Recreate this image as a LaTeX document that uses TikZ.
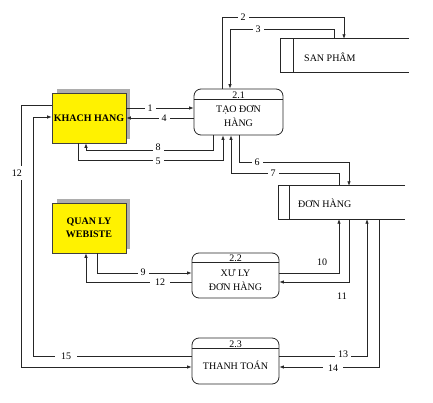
\documentclass[tikz,border=0pt]{standalone}
\usepackage{fontspec}
\setmainfont{Liberation Serif}
\usetikzlibrary{arrows.meta}
\begin{document}
\begin{tikzpicture}[x=1pt,y=-1pt,
  ln/.style={draw=black!85, line width=0.7pt},
  flow/.style={ln, -{Latex[length=4.5pt,width=3.5pt]}},
  proc/.style={draw=black!85, line width=0.8pt, rounded corners=7pt, inner sep=0pt},
  ent/.style={draw=black!75, line width=0.6pt, fill=yellow, minimum width=74pt, minimum height=50pt,
              inner sep=0pt, font=\bfseries\fontsize{10}{13}\selectfont, align=center},
  shadowc/.style={fill=black!32},
  store/.style={inner sep=0pt},
  ptext/.style={align=center, font=\fontsize{10}{14}\selectfont, inner sep=0pt},
  pnum/.style={anchor=base, inner sep=0pt, font=\fontsize{10}{12}\selectfont},
  lbl/.style={fill=white, inner xsep=3pt, inner ysep=1.5pt, font=\fontsize{10}{12}\selectfont},
  nlbl/.style={inner sep=1pt, font=\fontsize{10}{12}\selectfont}
]
\useasboundingbox (0,0) rectangle (433,403);

% external entities
\fill[shadowc] (57,89) rectangle (130,139);
\node[ent] (kh) at (89,118) {KHACH HANG};
\fill[shadowc] (57,199) rectangle (130,249);
\node[ent] (ql) at (89,228) {QUAN LY\\WEBISTE};

% processes
\node[proc, minimum width=89pt, minimum height=46pt] (tao) at (238.5,112) {};
\draw[ln] (tao.west |- 0,99) -- (tao.east |- 0,99);
\node[pnum] (taon) at (238.5,98.3) {2.1};
\node[ptext] (taot) at (238.5,116) {TẠO ĐƠN\\HÀNG};

\node[proc, minimum width=87pt, minimum height=45pt] (xl) at (235.5,275.5) {};
\draw[ln] (xl.west |- 0,262) -- (xl.east |- 0,262);
\node[pnum] (xln) at (235.5,261.3) {2.2};
\node[ptext] (xlt) at (235.5,280) {XƯ LY\\ĐƠN HÀNG};

\node[proc, minimum width=87pt, minimum height=46pt] (tt) at (235.5,361) {};
\draw[ln] (tt.west |- 0,348) -- (tt.east |- 0,348);
\node[pnum] (ttn) at (235.5,347.3) {2.3};
\node[ptext] (ttt) at (235.5,365) {THANH TOÁN};

% data stores
\node[store, minimum width=128pt, minimum height=33pt] (sp) at (345,55.5) {};
\draw[ln] (sp.north east) -- (sp.north west) -- (sp.south west) -- (sp.south east);
\draw[ln] (293,0 |- sp.north) -- (293,0 |- sp.south);
\node[anchor=west, inner sep=0pt] (spt) at (304,57) {SAN PHÂM};

\node[store, minimum width=126pt, minimum height=33pt] (dh) at (342,202.5) {};
\draw[ln] (dh.north east) -- (dh.north west) -- (dh.south west) -- (dh.south east);
\draw[ln] (289,0 |- dh.north) -- (289,0 |- dh.south);
\node[anchor=west, inner sep=0pt] (dht) at (298,203) {ĐƠN HÀNG};

% flows
\draw[flow] (kh.east |- 0,108) -- (tao.west |- 0,108);
\draw[flow] (tao.west |- 0,118) -- (kh.east |- 0,118);
\draw[flow] (222,0 |- tao.north) -- (222,17) -- (344,17) -- (344,0 |- sp.north);
\draw[flow] (334,0 |- sp.north) -- (334,29) -- (230,29) -- (230,0 |- tao.north);
\draw[flow] (213,0 |- tao.south) -- (213,150) -- (86,150) -- (86,0 |- kh.south);
\draw[flow] (78,0 |- kh.south) -- (78,160) -- (223,160) -- (223,0 |- tao.south);
\draw[flow] (239,0 |- tao.south) -- (239,162) -- (349,162) -- (349,0 |- dh.north);
\draw[flow] (339,0 |- dh.north) -- (339,173) -- (231,173) -- (231,0 |- tao.south);

\draw[flow] (kh.west |- 0,105) -- (21,105) -- (21,367) -- (tt.west |- 0,367);
\draw[flow] (tt.west |- 0,356) -- (33,356) -- (33,117) -- (kh.west |- 0,117);

\draw[flow] (97,0 |- ql.south) -- (97,273) -- (xl.west |- 0,273);
\draw[flow] (xl.west |- 0,282) -- (86,282) -- (86,0 |- ql.south);
\draw[flow] (xl.east |- 0,273) -- (339,273) -- (339,0 |- dh.south);
\draw[flow] (349,0 |- dh.south) -- (349,282) -- (xl.east |- 0,282);
\draw[flow] (tt.east |- 0,356) -- (367,356) -- (367,0 |- dh.south);
\draw[flow] (379,0 |- dh.south) -- (379,367) -- (tt.east |- 0,367);

% labels
\node[lbl] (l1) at (150,108) {1};
\node[lbl] (l4) at (164,118) {4};
\node[lbl] (l2) at (243,17) {2};
\node[lbl] (l3) at (258,29) {3};
\node[lbl] (l8) at (158,147) {8};
\node[lbl] (l5) at (158,161) {5};
\node[lbl] (l6) at (257,162) {6};
\node[lbl] (l7) at (273,173) {7};
\node[lbl, inner xsep=2pt, inner ysep=4pt] (l12a) at (17,173) {12};
\node[lbl, inner xsep=6pt] (l15) at (66,356) {15};
\node[lbl] (l9) at (143,272) {9};
\node[lbl, inner xsep=5pt] (l12b) at (160,282) {12};
\node[nlbl] (l10) at (322,262) {10};
\node[nlbl] (l11) at (342,296) {11};
\node[lbl] (l13) at (343,354) {13};
\node[lbl, inner xsep=5pt] (l14) at (333,368) {14};
\end{tikzpicture}
\end{document}
